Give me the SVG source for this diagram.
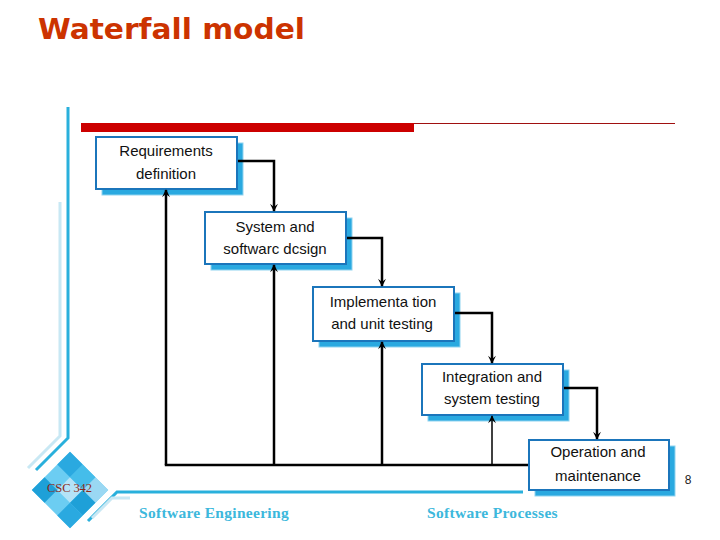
<svg xmlns="http://www.w3.org/2000/svg" width="720" height="540" viewBox="0 0 720 540">
<style>
.box{fill:#ffffff;stroke:#1b75bb;stroke-width:2}
.sh{fill:#2aa9e0;stroke:#8fd3f0;stroke-width:1}
.lbl{font-family:"Liberation Sans",Arial,sans-serif;font-size:15px;fill:#111;text-anchor:middle}
.fw{fill:none;stroke:#000;stroke-width:2.5}
.fb{fill:none;stroke:#000;stroke-width:2.5}
.foot{font-family:"Liberation Serif","Times New Roman",serif;font-weight:bold;font-size:15.5px;fill:#3cb8dc;letter-spacing:0.3px}
</style>
<defs>
<marker id="ah" viewBox="0 0 10 10" refX="9" refY="5" markerWidth="11" markerHeight="8" orient="auto" markerUnits="userSpaceOnUse">
<path d="M0,0 L10,5 L0,10 L4,5 Z" fill="#000"/>
</marker>
</defs>
<rect width="720" height="540" fill="#ffffff"/>
<g id="decor">
<text x="38" y="39" font-family="'DejaVu Sans',Verdana,sans-serif" font-weight="bold" font-size="28" fill="#cc3300" textLength="267" lengthAdjust="spacingAndGlyphs">Waterfall model</text>
<rect x="81" y="123" width="333" height="9" fill="#cc0000"/>
<line x1="414" y1="123.5" x2="675" y2="123.5" stroke="#a01010" stroke-width="1"/>
<polyline points="68,107 68,438 36,470" fill="none" stroke="#29b0dc" stroke-width="3"/>
<polyline points="60,202 60,436 28,468" fill="none" stroke="#c8e8f4" stroke-width="3"/>
<polyline points="523,492 117,492 88,521" fill="none" stroke="#29b0dc" stroke-width="3"/>
<polyline points="130,498 112,498 92,518" fill="none" stroke="#c8e8f4" stroke-width="3"/>
<g transform="translate(70,490) rotate(45)">
<rect x="-27" y="-27" width="54" height="54" fill="#6ccdf2"/>
<rect x="-27" y="-27" width="18" height="18" fill="#2aa9e0"/>
<rect x="-9" y="-9" width="18" height="18" fill="#b5e3f7"/>
<rect x="9" y="9" width="18" height="18" fill="#2aa9e0"/>
<rect x="9" y="-27" width="18" height="18" fill="#9ad8f3"/>
<rect x="-27" y="9" width="18" height="18" fill="#1ea0d8"/>
<rect x="-9" y="-27" width="18" height="18" fill="#45bdea"/>
<rect x="9" y="-9" width="18" height="18" fill="#1ea0d8"/>
</g>
<text x="47" y="492" font-family="'Liberation Serif',serif" font-size="12.5" fill="#8b2a1a" textLength="45">CSC 342</text>
<text x="139" y="518" class="foot">Software Engineering</text>
<text x="427" y="518" class="foot">Software Processes</text>
<text x="688" y="484" font-family="'Liberation Sans',Arial,sans-serif" font-size="12" fill="#222" text-anchor="middle">8</text>
</g>
<g id="n1">
<rect class="sh" x="102" y="143" width="141" height="52"/>
<rect class="box" x="96" y="137" width="141" height="52"/>
<text class="lbl" x="166" y="156">Requirements</text>
<text class="lbl" x="166" y="179">definition</text>
</g>
<g id="n2">
<rect class="sh" x="211" y="218" width="141" height="52"/>
<rect class="box" x="205" y="212" width="141" height="52"/>
<text class="lbl" x="275" y="232">System and</text>
<text class="lbl" x="275" y="254">softwarc dcsign</text>
</g>
<g id="n3">
<rect class="sh" x="319" y="293" width="141" height="54"/>
<rect class="box" x="313" y="287" width="141" height="54"/>
<text class="lbl" x="383" y="307">Implementa tion</text>
<text class="lbl" x="382" y="329">and unit testing</text>
</g>
<g id="n4">
<rect class="sh" x="428" y="370" width="141" height="51"/>
<rect class="box" x="422" y="364" width="141" height="51"/>
<text class="lbl" x="492" y="382">Integration and</text>
<text class="lbl" x="492" y="404">system testing</text>
</g>
<g id="n5">
<rect class="sh" x="535" y="446" width="140" height="50"/>
<rect class="box" x="529" y="440" width="140" height="50"/>
<text class="lbl" x="598" y="457">Operation and</text>
<text class="lbl" x="598" y="481">maintenance</text>
</g>
<g id="connectors">
<polyline class="fw" points="238,161 274,161 274,211" marker-end="url(#ah)"/>
<polyline class="fw" points="347,238 382,238 382,286" marker-end="url(#ah)"/>
<polyline class="fw" points="455,313 492,313 492,363" marker-end="url(#ah)"/>
<polyline class="fw" points="564,388 597,388 597,439" marker-end="url(#ah)"/>
<line x1="164.8" y1="465" x2="528" y2="465" stroke="#000" stroke-width="2.5"/>
<line class="fb" x1="166" y1="465" x2="166" y2="190" marker-end="url(#ah)"/>
<line class="fb" x1="274" y1="465" x2="274" y2="265" marker-end="url(#ah)"/>
<line class="fb" x1="382" y1="465" x2="382" y2="342" marker-end="url(#ah)"/>
<line x1="492" y1="465" x2="492" y2="416" stroke="#000" stroke-width="1.5" marker-end="url(#ah)"/>
</g>
</svg>
